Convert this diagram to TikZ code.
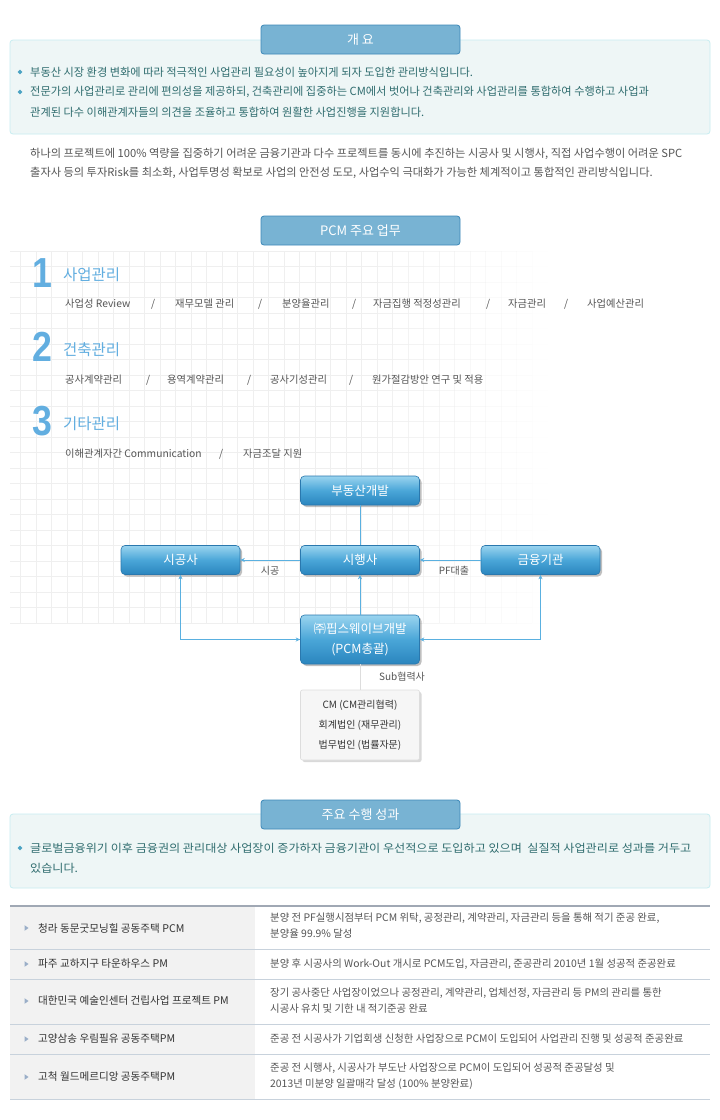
\documentclass[tikz,border=0pt]{standalone}
\usepackage{fontspec}
\setmainfont{Noto Sans CJK KR}
\newfontfamily\numfont{Liberation Sans}
\usetikzlibrary{arrows.meta,shadows,shapes.geometric}
\definecolor{hdrfill}{HTML}{78B3D3}
\definecolor{hdrdraw}{HTML}{3D88B8}
\definecolor{panelfill}{HTML}{EEF6F6}
\definecolor{paneldraw}{HTML}{C8EDF1}
\definecolor{tealtxt}{HTML}{2F6C6E}
\definecolor{bulletc}{HTML}{4BA3C3}
\definecolor{graytxt}{HTML}{555555}
\definecolor{darktxt}{HTML}{333333}
\definecolor{numblue}{HTML}{62AEE0}
\definecolor{boxtop}{HTML}{9AD4EF}
\definecolor{boxmid}{HTML}{4AA6D8}
\definecolor{boxbot}{HTML}{2A85BE}
\definecolor{boxdraw}{HTML}{2A78AE}
\definecolor{arrowblue}{HTML}{5AB0E0}
\definecolor{gridc}{HTML}{EFEFEF}
\definecolor{subfill}{HTML}{F6F6F6}
\definecolor{subdraw}{HTML}{DDDDDD}
\definecolor{tabtop}{HTML}{A0A8B4}
\definecolor{tabsep}{HTML}{C8D2DC}
\definecolor{leftfill}{HTML}{F2F2F2}
\definecolor{tribull}{HTML}{9AAEC8}
\begin{document}
\begin{tikzpicture}[x=1pt,y=-1pt,
  hdr/.style={rectangle, rounded corners=3pt, fill=hdrfill, draw=hdrdraw, line width=0.8pt,
    minimum width=199pt, minimum height=29pt, text=white, inner sep=0pt,
    font=\fontsize{13}{13}\selectfont},
  panel/.style={fill=panelfill, draw=paneldraw, line width=0.8pt, rounded corners=3pt},
  ptxt/.style={anchor=west, inner sep=0pt, text=tealtxt, font=\fontsize{11.2}{13}\selectfont},
  bul/.style={diamond, fill=bulletc, inner sep=0pt, minimum size=5pt},
  para/.style={anchor=west, inner sep=0pt, text=graytxt, font=\fontsize{11.2}{13}\selectfont},
  bignum/.style={anchor=west, inner sep=0pt, text=numblue, font=\numfont\bfseries\fontsize{42}{42}\selectfont},
  sect/.style={anchor=west, inner sep=0pt, text=numblue, font=\fontsize{15.5}{16}\selectfont},
  item/.style={anchor=west, inner sep=0pt, text=graytxt, font=\fontsize{10.3}{12}\selectfont},
  bluebox/.style={rectangle, rounded corners=4pt, top color=boxtop, bottom color=boxbot, middle color=boxmid,
    draw=boxdraw, line width=0.6pt, minimum width=119pt, minimum height=29pt, text=white, inner sep=0pt,
    align=center, font=\fontsize{12.5}{20}\selectfont,
    drop shadow={shadow xshift=2pt, shadow yshift=-2pt, fill=black, opacity=0.25}},
  subbox/.style={rectangle, rounded corners=2pt, fill=subfill, draw=subdraw, line width=0.6pt,
    minimum width=119pt, minimum height=70pt, inner sep=0pt, align=center, text=darktxt,
    font=\fontsize{10}{20}\selectfont,
    drop shadow={shadow xshift=2pt, shadow yshift=-2pt, fill=black, opacity=0.15}},
  conn/.style={draw=arrowblue, line width=0.8pt},
  tip/.style={-{Stealth[length=4.5pt,width=4pt]}},
  lbl/.style={inner sep=0pt, text=graytxt, font=\fontsize{10}{12}\selectfont},
  ltxt/.style={anchor=west, inner sep=0pt, text=darktxt, font=\fontsize{10.6}{12}\selectfont},
  rtxt/.style={anchor=west, inner sep=0pt, text=graytxt, align=left, font=\fontsize{10.4}{16}\selectfont},
  tri/.style={isosceles triangle, fill=tribull, inner sep=0pt, minimum height=4pt, minimum width=5pt, isosceles triangle apex angle=70}
]
\useasboundingbox (0,0) rectangle (720,1120);
\fill[white] (0,0) rectangle (720,1120);

% ---------- Section 1 ----------
\draw[panel] (10,40) rectangle (710,134);
\node[hdr] (h1) at (360.5,39.5) {개 요};
\node[bul] (b1) at (20,72) {};
\node[ptxt] (t1) at (30,72) {부동산 시장 환경 변화에 따라 적극적인 사업관리 필요성이 높아지게 되자 도입한 관리방식입니다.};
\node[bul] (b2) at (20,92) {};
\node[ptxt] (t2) at (30,92) {전문가의 사업관리로 관리에 편의성을 제공하되, 건축관리에 집중하는 CM에서 벗어나 건축관리와 사업관리를 통합하여 수행하고 사업과};
\node[ptxt] (t3) at (30,112) {관계된 다수 이해관계자들의 의견을 조율하고 통합하여 원활한 사업진행을 지원합니다.};
\node[para] (p1) at (30,154) {하나의 프로젝트에 100\% 역량을 집중하기 어려운 금융기관과 다수 프로젝트를 동시에 추진하는 시공사 및 시행사, 직접 사업수행이 어려운 SPC};
\node[para] (p2) at (30,173) {출자사 등의 투자Risk를 최소화, 사업투명성 확보로 사업의 안전성 도모, 사업수익 극대화가 가능한 체계적이고 통합적인 관리방식입니다.};

% ---------- Grid ----------
\foreach \i in {0,...,34} {
  \pgfmathsetmacro{\op}{min(1,max(0,(34-\i)/12))}
  \draw[gridc, line width=0.8pt, opacity=\op] ({20.5+15.5*\i},251) -- ({20.5+15.5*\i},623);
}
\foreach \j in {0,...,24} {
  \draw[gridc, line width=0.8pt] (10,{623-15.5*\j}) -- (20.5,{623-15.5*\j});
  \foreach \i in {0,...,33} {
    \pgfmathsetmacro{\op}{min(1,max(0,(33.5-\i)/12))}
    \draw[gridc, line width=0.8pt, opacity=\op] ({20.5+15.5*\i},{623-15.5*\j}) -- ++(15.5,0);
  }
}

% ---------- Section 2 ----------
\node[hdr] (h2) at (360.5,230.5) {PCM 주요 업무};
\node[bignum] (n1) at (32,273) {\scalebox{0.85}[1]{1}};
\node[sect] (s1) at (63,275) {사업관리};
\node[item] (i11) at (65,304) {사업성 Review};
\node[item] (i12) at (151,304) {/};
\node[item] (i13) at (175,304) {재무모델 관리};
\node[item] (i14) at (258,304) {/};
\node[item] (i15) at (282,304) {분양율관리};
\node[item] (i16) at (352,304) {/};
\node[item] (i17) at (373,304) {자금집행 적정성관리};
\node[item] (i18) at (486,304) {/};
\node[item] (i19) at (508,304) {자금관리};
\node[item] (i1a) at (564,304) {/};
\node[item] (i1b) at (587,304) {사업예산관리};

\node[bignum] (n2) at (32,347) {\scalebox{0.85}[1]{2}};
\node[sect] (s2) at (63,350) {건축관리};
\node[item] (i21) at (65,380) {공사계약관리};
\node[item] (i22) at (146,380) {/};
\node[item] (i23) at (167,380) {용역계약관리};
\node[item] (i24) at (247,380) {/};
\node[item] (i25) at (270,380) {공사기성관리};
\node[item] (i26) at (349,380) {/};
\node[item] (i27) at (372,380) {원가절감방안 연구 및 적용};

\node[bignum] (n3) at (32,421) {\scalebox{0.85}[1]{3}};
\node[sect] (s3) at (63,424) {기타관리};
\node[item] (i31) at (65,454) {이해관계자간 Communication};
\node[item] (i32) at (219,454) {/};
\node[item] (i33) at (243,454) {자금조달 지원};

% ---------- Diagram ----------
\node[bluebox] (bd) at (360,490.5) {부동산개발};
\node[bluebox] (sg) at (180.5,560) {시공사};
\node[bluebox] (sh) at (360,560) {시행사};
\node[bluebox] (fin) at (540.5,560) {금융기관};
\node[bluebox, minimum height=49pt] (pcm) at (360,639.5) {㈜핍스웨이브개발\\(PCM총괄)};
\node[subbox] (sub) at (360,725) {CM (CM관리협력)\\회계법인 (재무관리)\\법무법인 (법률자문)};

\draw[conn] (bd.south) -- (sh.north);
\draw[conn, tip] (sh.west) -- (sg.east);
\draw[conn, tip] (fin.west) -- (sh.east);
\draw[conn, tip] (pcm.north) -- (sh.south);
\draw[conn, tip] (pcm.west) -| (sg.south);
\draw[conn, tip] (sg.south |- pcm.west) -- (pcm.west);
\draw[conn, tip] (pcm.east) -| (fin.south);
\draw[conn, tip] (fin.south |- pcm.east) -- (pcm.east);
\draw[subdraw, line width=0.8pt] (pcm.south) -- (sub.north);
\node[lbl] (l1) at (270,570.5) {시공};
\node[lbl] (l2) at (454,570.5) {PF대출};
\node[lbl] (l3) at (402,677) {Sub협력사};

% ---------- Section 3 ----------
\draw[panel] (10,814) rectangle (710,888);
\node[hdr] (h3) at (360.5,814.5) {주요 수행 성과};
\node[bul] (b3) at (20,848) {};
\node[ptxt] (t4) at (30,848) {\scalebox{1.08}[1]{글로벌금융위기 이후 금융권의 관리대상 사업장이 증가하자 금융기관이 우선적으로 도입하고 있으며\ \ 실질적 사업관리로 성과를 거두고}};
\node[ptxt] (t5) at (30,868) {\scalebox{1.08}[1]{있습니다.}};

% ---------- Table ----------
\fill[leftfill] (10,907) rectangle (255,1099);
\foreach \yy in {949,979,1024,1054,1099} {
  \draw[tabsep, line width=0.8pt] (10,\yy) -- (710,\yy);
}
\draw[tabtop, line width=2pt] (10,906) -- (710,906);

\node[tri] (r1b) at (26,928) {};
\node[ltxt] (r1l) at (38,928) {청라 동문굿모닝힐 공동주택 PCM};
\node[rtxt] (r1r) at (270,926) {분양 전 PF실행시점부터 PCM 위탁, 공정관리, 계약관리, 자금관리 등을 통해 적기 준공 완료,\\분양율 99.9\% 달성};

\node[tri] (r2b) at (26,964) {};
\node[ltxt] (r2l) at (38,964) {파주 교하지구 타운하우스 PM};
\node[rtxt] (r2r) at (270,964) {분양 후 시공사의 Work-Out 개시로 PCM도입, 자금관리, 준공관리 2010년 1월 성공적 준공완료};

\node[tri] (r3b) at (26,1001) {};
\node[ltxt] (r3l) at (38,1001) {대한민국 예술인센터 건립사업 프로젝트 PM};
\node[rtxt] (r3r) at (270,1001) {장기 공사중단 사업장이었으나 공정관리, 계약관리, 업체선정, 자금관리 등 PM의 관리를 통한\\시공사 유치 및 기한 내 적기준공 완료};

\node[tri] (r4b) at (26,1039) {};
\node[ltxt] (r4l) at (38,1039) {고양삼송 우림필유 공동주택PM};
\node[rtxt] (r4r) at (270,1039) {준공 전 시공사가 기업회생 신청한 사업장으로 PCM이 도입되어 사업관리 진행 및 성공적 준공완료};

\node[tri] (r5b) at (26,1077) {};
\node[ltxt] (r5l) at (38,1077) {고척 월드메르디앙 공동주택PM};
\node[rtxt] (r5r) at (270,1076) {준공 전 시행사, 시공사가 부도난 사업장으로 PCM이 도입되어 성공적 준공달성 및\\2013년 미분양 일괄매각 달성 (100\% 분양완료)};
\end{tikzpicture}
\end{document}
